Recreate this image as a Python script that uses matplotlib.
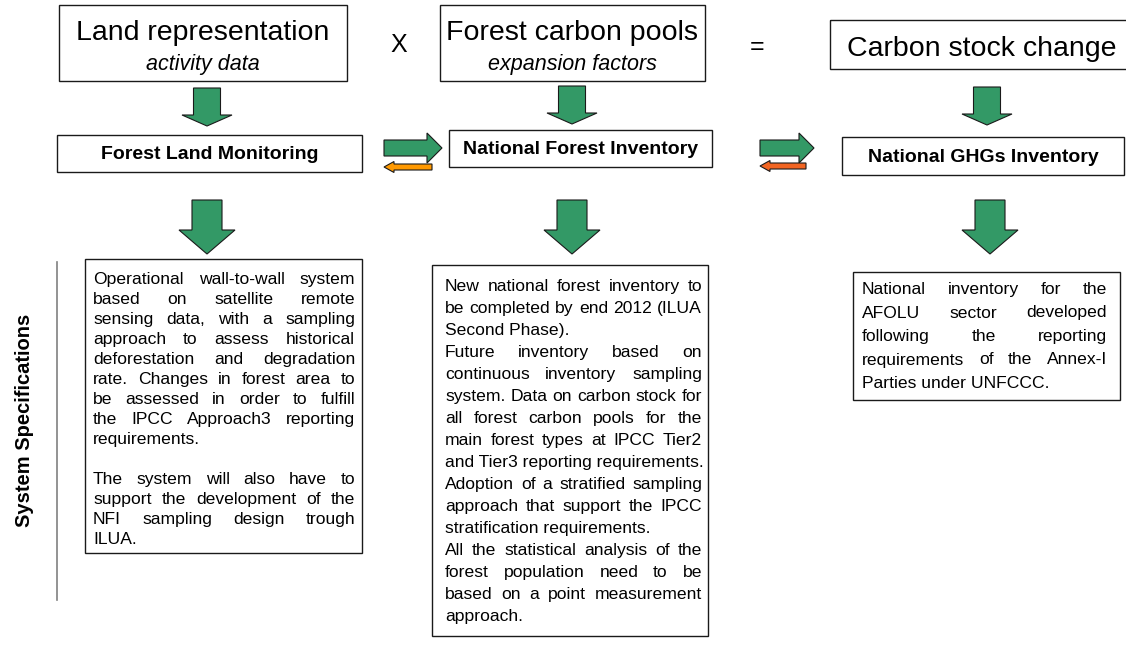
import matplotlib
matplotlib.use('Agg')
import matplotlib.pyplot as plt
from matplotlib.patches import Polygon, Rectangle

# ---------------- content ----------------
top_titles = ["Land representation", "Forest carbon pools", "Carbon stock change"]
top_subtitles = ["activity data", "expansion factors", ""]
operators = ["X", "="]
system_names = ["Forest Land Monitoring", "National Forest Inventory", "National GHGs Inventory"]
side_label = "System Specifications"

spec_box1 = [
    ["Operational wall-to-wall system",
     "based on satellite remote",
     "sensing data, with a sampling",
     "approach to assess historical",
     "deforestation and degradation",
     "rate. Changes in forest area to",
     "be assessed in order to fulfill",
     "the IPCC Approach3 reporting",
     "requirements."],
    ["The system will also have to",
     "support the development of the",
     "NFI sampling design trough",
     "ILUA."],
]
spec_box2 = [
    ["New national forest inventory to",
     "be completed by end 2012 (ILUA",
     "Second Phase)."],
    ["Future inventory based on",
     "continuous inventory sampling",
     "system. Data on carbon stock for",
     "all forest carbon pools for the",
     "main forest types at IPCC Tier2",
     "and Tier3 reporting requirements."],
    ["Adoption of a stratified sampling",
     "approach that support the IPCC",
     "stratification requirements."],
    ["All the statistical analysis of the",
     "forest population  need to be",
     "based on a point measurement",
     "approach."],
]
spec_box3 = [
    ["National inventory for the",
     "AFOLU sector developed",
     "following the reporting",
     "requirements of the Annex-I",
     "Parties under UNFCCC."],
]

# ---------------- style ----------------
FONT = 'Liberation Sans'
GREEN = '#339966'
ORANGE1 = '#FF9900'
ORANGE2 = '#F26522'
EDGE = '#1a1a1a'

W, H = 1126, 655
fig = plt.figure(figsize=(W / 100, H / 100), dpi=100)
ax = fig.add_axes([0, 0, 1, 1])
ax.set_xlim(0, W)
ax.set_ylim(H, 0)
ax.axis('off')
renderer = fig.canvas.get_renderer()


def box(x0, y0, x1, y1, lw=1.0):
    ax.add_patch(Rectangle((x0, y0), x1 - x0, y1 - y0, fill=False,
                           edgecolor=EDGE, linewidth=lw))


def down_arrow(cx, ytop, yhead, ytip, sw, hw):
    pts = [(cx - sw, ytop), (cx + sw, ytop), (cx + sw, yhead), (cx + hw, yhead),
           (cx, ytip), (cx - hw, yhead), (cx - sw, yhead)]
    ax.add_patch(Polygon(pts, closed=True, facecolor=GREEN, edgecolor=EDGE, linewidth=0.8))


def horiz_arrow(xtail, xhead, xtip, cy, sh, hh, color):
    pts = [(xtail, cy - sh), (xhead, cy - sh), (xhead, cy - hh), (xtip, cy),
           (xhead, cy + hh), (xhead, cy + sh), (xtail, cy + sh)]
    ax.add_patch(Polygon(pts, closed=True, facecolor=color, edgecolor=EDGE, linewidth=0.8))


def justified(paras, x0, x1, y_first, dy, para_gap, size):
    kw = dict(fontsize=size, family=FONT, va='baseline', ha='left', color='black')
    y = y_first
    for para in paras:
        for j, line in enumerate(para):
            words = line.split()
            last = (j == len(para) - 1)
            if last or len(words) < 2:
                ax.text(x0, y, line, **kw)
            else:
                ts = [ax.text(0, y, w, **kw) for w in words]
                ws = [t.get_window_extent(renderer).width for t in ts]
                gap = (x1 - x0 - sum(ws)) / (len(words) - 1)
                x = x0
                for t, w in zip(ts, ws):
                    t.set_x(x)
                    x += w + gap
            y += dy
        y += para_gap * dy


# ---------------- top row ----------------
top_boxes = [(59, 5, 347, 81), (440, 5, 705, 81), (830, 20, 1135, 69)]
for (x0, y0, x1, y1), t, s in zip(top_boxes, top_titles, top_subtitles):
    cx = (x0 + x1) / 2 if x1 < W else 982
    if s:
        ax.text(cx, 40, t, fontsize=20.5, family=FONT, ha='center', va='baseline')
        ax.text(cx, 70, s, fontsize=15.5, family=FONT, style='italic', ha='center', va='baseline')
    else:
        ax.text(cx, 56, t, fontsize=20.5, family=FONT, ha='center', va='baseline')
    box(x0, y0, x1, y1)

for (x, y), op in zip([(399, 45), (757, 47)], operators):
    ax.text(x, y, op, fontsize=18, family=FONT, ha='center', va='center')

# small down arrows
for cx, yt in [(207, 88), (572, 86), (987, 87)]:
    down_arrow(cx, yt, yt + 27, yt + 38, 13.5, 25)

# ---------------- system row ----------------
sys_boxes = [(57, 135, 362, 172), (449, 130, 712, 167), (842, 137, 1124, 175)]
for (x0, y0, x1, y1), t in zip(sys_boxes, system_names):
    box(x0, y0, x1, y1)
    ax.text((x0 + x1) / 2, (y0 + y1) / 2 + 1, t, fontsize=14, family=FONT, weight='bold',
            ha='center', va='center')

# horizontal arrows between systems
for xs, xe in [(384, 442), (760, 814)]:
    horiz_arrow(xs, xe - 15, xe, 148, 8, 15, GREEN)
horiz_arrow(432, 394, 384, 167, 3, 5.5, ORANGE1)
horiz_arrow(806, 770, 760, 166, 3, 5.5, ORANGE2)

# big down arrows
for cx in [207, 572, 990]:
    down_arrow(cx, 200, 230, 254, 15, 28)

# ---------------- specification boxes ----------------
box(85, 259, 362, 553)
justified(spec_box1, 93, 355, 284, 20, 1, 12.6)

box(432, 265, 708, 636)
justified(spec_box2, 445, 702, 291, 22, 0, 12.6)

box(853, 272, 1120, 400)
justified(spec_box3, 862, 1107, 294, 23.5, 0, 12.6)

# side label and separator
ax.text(25, 420, side_label, fontsize=14.5, family=FONT, weight='bold', rotation=90,
        ha='center', va='center')
ax.plot([57, 57], [262, 600], color='#808080', linewidth=1.2)

fig.savefig('out.png', dpi=100)
